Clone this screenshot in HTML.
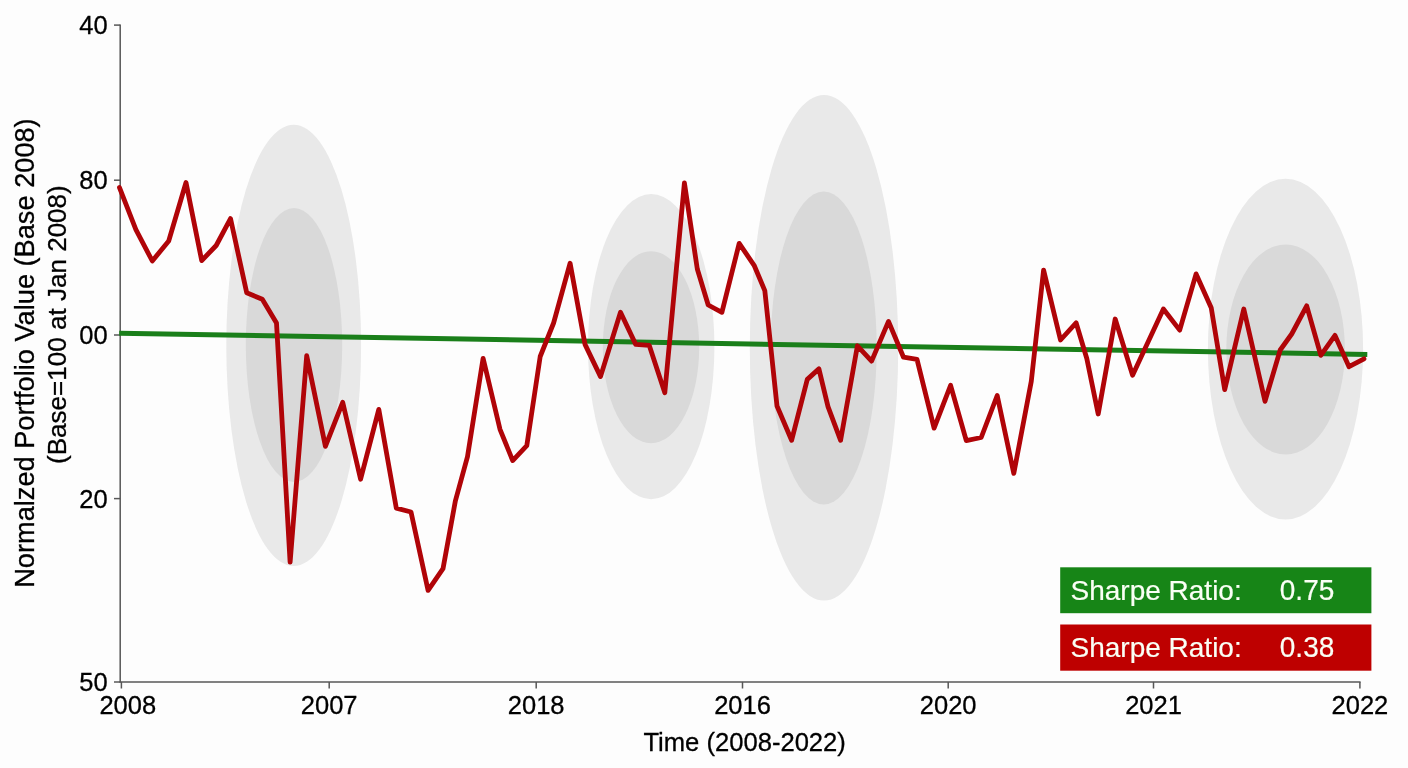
<!DOCTYPE html>
<html><head><meta charset="utf-8"><title>Portfolio Chart</title>
<style>
html,body{margin:0;padding:0;background:#fdfdfd;}
svg{display:block;}
svg{will-change:transform;}
text{font-family:"Liberation Sans",Arial,sans-serif;fill:#000;stroke:#000;stroke-width:0.3px;}
.tk{font-size:25.5px;}
.box{font-size:28px;fill:#fafff5;stroke:#fafff5;stroke-width:0.2px;}
</style></head><body>
<svg width="1408" height="768" viewBox="0 0 1408 768">
<rect x="0" y="0" width="1408" height="768" fill="#fdfdfd"/>
<ellipse cx="293.7" cy="345.4" rx="67.4" ry="220.7" fill="#e9e9e9"/>
<ellipse cx="651.2" cy="346.7" rx="63.2" ry="152.6" fill="#e9e9e9"/>
<ellipse cx="824.0" cy="347.8" rx="74.2" ry="252.8" fill="#e9e9e9"/>
<ellipse cx="1285.5" cy="349.1" rx="77.6" ry="170.3" fill="#e9e9e9"/>
<ellipse cx="294.0" cy="345.0" rx="48.2" ry="137.0" fill="#d9d9d9"/>
<ellipse cx="651.0" cy="347.2" rx="48.2" ry="96.0" fill="#d9d9d9"/>
<ellipse cx="823.7" cy="348.0" rx="53.0" ry="156.5" fill="#d9d9d9"/>
<ellipse cx="1285.6" cy="349.4" rx="59.3" ry="105.0" fill="#d9d9d9"/>

<line x1="120.2" y1="24.5" x2="120.2" y2="682.6" stroke="#575757" stroke-width="1.5"/>
<line x1="119.5" y1="681.9" x2="1360.6" y2="681.9" stroke="#575757" stroke-width="1.5"/>
<line x1="114" y1="25.1" x2="120.2" y2="25.1" stroke="#575757" stroke-width="1.5"/>
<text x="107.6" y="34.3" text-anchor="end" class="tk">40</text>
<line x1="114" y1="180.2" x2="120.2" y2="180.2" stroke="#575757" stroke-width="1.5"/>
<text x="107.6" y="189.4" text-anchor="end" class="tk">80</text>
<line x1="114" y1="335" x2="120.2" y2="335" stroke="#575757" stroke-width="1.5"/>
<text x="107.6" y="344.2" text-anchor="end" class="tk">00</text>
<line x1="114" y1="498.6" x2="120.2" y2="498.6" stroke="#575757" stroke-width="1.5"/>
<text x="107.6" y="507.8" text-anchor="end" class="tk">20</text>
<line x1="114" y1="682" x2="120.2" y2="682" stroke="#575757" stroke-width="1.5"/>
<text x="107.6" y="691.2" text-anchor="end" class="tk">50</text>
<line x1="121.4" y1="681.9" x2="121.4" y2="688.5" stroke="#575757" stroke-width="1.5"/>
<text x="127.8" y="714.3" text-anchor="middle" class="tk">2008</text>
<line x1="329.2" y1="681.9" x2="329.2" y2="688.5" stroke="#575757" stroke-width="1.5"/>
<text x="329.2" y="714.3" text-anchor="middle" class="tk">2007</text>
<line x1="536.2" y1="681.9" x2="536.2" y2="688.5" stroke="#575757" stroke-width="1.5"/>
<text x="536.2" y="714.3" text-anchor="middle" class="tk">2018</text>
<line x1="742.5" y1="681.9" x2="742.5" y2="688.5" stroke="#575757" stroke-width="1.5"/>
<text x="742.5" y="714.3" text-anchor="middle" class="tk">2016</text>
<line x1="948.2" y1="681.9" x2="948.2" y2="688.5" stroke="#575757" stroke-width="1.5"/>
<text x="948.2" y="714.3" text-anchor="middle" class="tk">2020</text>
<line x1="1153.5" y1="681.9" x2="1153.5" y2="688.5" stroke="#575757" stroke-width="1.5"/>
<text x="1153.5" y="714.3" text-anchor="middle" class="tk">2021</text>
<line x1="1359.9" y1="681.9" x2="1359.9" y2="688.5" stroke="#575757" stroke-width="1.5"/>
<text x="1359.9" y="714.3" text-anchor="middle" class="tk">2022</text>

<line x1="119.2" y1="333.2" x2="1367.3" y2="354.5" stroke="#1a7f1a" stroke-width="5" stroke-linecap="butt"/>
<polyline points="119.5,187.6 135.9,229.6 152.3,261 168.7,241 186,182.5 201.7,260.6 216.2,245.5 230.5,218.6 246.7,292.8 262.3,299.3 276.5,323 290.1,562.2 306.7,355.7 325.4,446.3 342.7,402.3 360.6,479.2 378.8,409.4 396.3,508.1 411,512 428.1,590.4 443,568.7 455.4,500.8 467.5,456.6 483.1,358.3 500,429.3 512.7,460.6 526.8,445.6 540.2,356.5 553.6,323 570.1,263.2 585,344.4 600.5,376.6 620.5,312.3 635.7,344.4 649.3,345.4 664.8,392.8 684.4,182.9 697.3,269 708.2,305 721.9,312.3 739.2,243.4 754.1,265.3 764.8,290.6 777,406 791.6,440.3 807.3,379.4 818.9,368.9 828,406.6 840.6,440.3 857.4,345.8 871.6,361.1 888.5,321.4 903.5,357.2 917,359.3 934.1,428.1 950.6,385.3 966.3,440.6 981.2,437.5 997.2,395.5 1013.8,473.4 1031.3,381.3 1043.6,270.1 1060.5,340 1076.1,322.8 1086.8,358.5 1098.2,414 1115.2,319 1132.6,375.3 1163.4,309 1179.7,330.1 1196.1,273.9 1211.2,307.7 1224.7,389.6 1243.8,309 1265,401.3 1280.2,350 1291.7,334 1306.7,305.8 1320.8,355.4 1335,335.4 1349,366.7 1364,358.8" fill="none" stroke="#b00408" stroke-width="4.8" stroke-linejoin="round" stroke-linecap="round"/>
<text x="643.4" y="751.1" class="tk" style="font-size:25.6px">Time (2008-2022)</text>
<text transform="translate(34,587.8) rotate(-90)" style="font-size:27.2px">Normalzed Portfolio Value (Base 2008)</text>
<text transform="translate(65.5,464) rotate(-90)" style="font-size:26.05px">(Base=100 at Jan 2008)</text>
<rect x="1060.2" y="567.3" width="311.2" height="45.9" fill="#178517"/>
<rect x="1060.2" y="624.5" width="311.2" height="46.2" fill="#be0000"/>
<text x="1070.5" y="600.2" class="box">Sharpe Ratio:</text>
<text transform="translate(1279.8,600.3) scale(0.965,1)" class="box" style="font-size:29px">0.75</text>
<text x="1070.5" y="657" class="box">Sharpe Ratio:</text>
<text transform="translate(1279.8,657.1) scale(0.965,1)" class="box" style="font-size:29px">0.38</text>
</svg>
</body></html>
